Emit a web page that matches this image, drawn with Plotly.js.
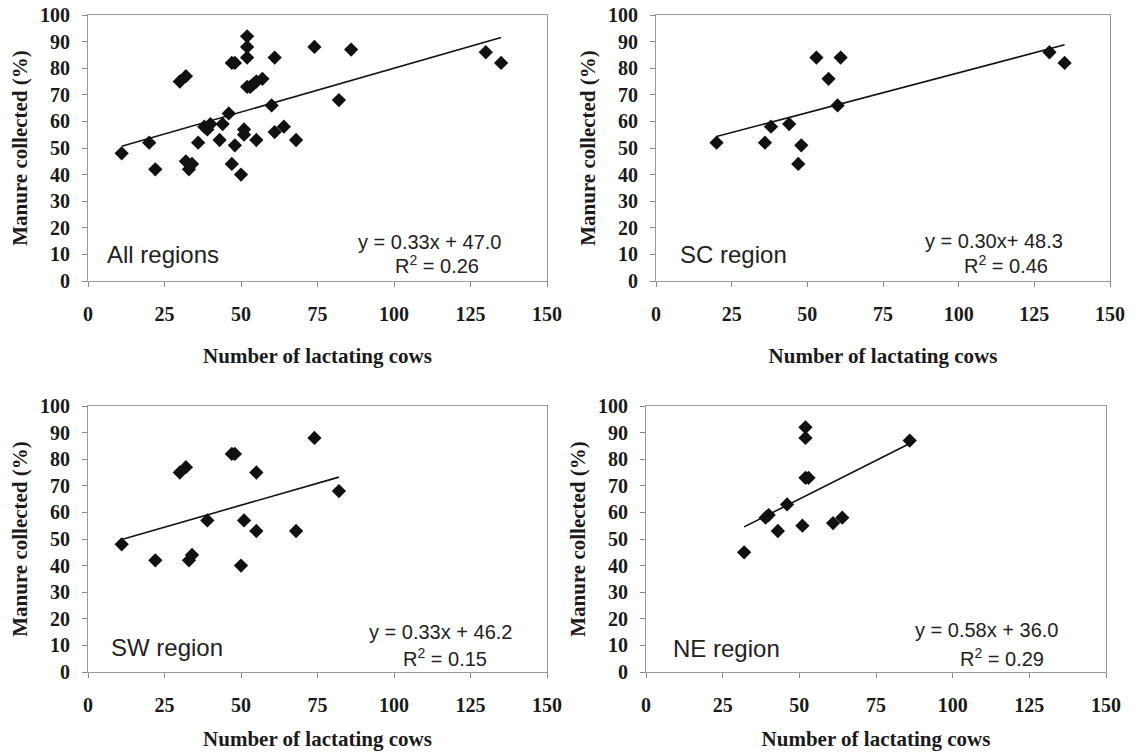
<!DOCTYPE html>
<html>
<head>
<meta charset="utf-8">
<script src="https://cdn.plot.ly/plotly-3.0.1.min.js"></script>
<style>
html,body{margin:0;padding:0;background:#fff;}
#chart{width:1135px;height:753px;}
</style>
</head>
<body>
<div id="chart"></div>
<script>
// ---- data ----
const allX = [11,20,22,30,32,32,33,34,36,38,39,40,43,44,46,47,48,47,48,50,51,51,52,52,52,52,53,54,55,57,55,60,61,61,64,68,74,82,86,130,135];
const allY = [48,52,42,75,77,45,42,44,52,58,57,59,53,59,63,82,82,44,51,40,57,55,92,88,84,73,73,74,75,76,53,66,84,56,58,53,88,68,87,86,82];

const scX = [20,36,38,44,48,47,53,57,61,60,130,135];
const scY = [52,52,58,59,51,44,84,76,84,66,86,82];

const swX = [11,22,30,32,33,34,39,47,48,50,51,55,55,68,74,82];
const swY = [48,42,75,77,42,44,57,82,82,40,57,53,75,53,88,68];

const neX = [32,39,40,43,46,51,52,52,52,53,61,64,86];
const neY = [45,58,59,53,63,55,92,88,73,73,56,58,87];

const regionNames = ['All regions', 'SC region', 'SW region', 'NE region'];
const slopes = [0.33, 0.30, 0.33, 0.58];
const intercepts = [47.0, 48.3, 46.2, 36.0];
const eqLabels = ['y = 0.33x + 47.0', 'y = 0.30x+ 48.3', 'y = 0.33x + 46.2', 'y = 0.58x + 36.0'];
const r2Labels = ['0.26', '0.46', '0.15', '0.29'];

const xTickVals = [0, 25, 50, 75, 100, 125, 150];
const yTickVals = [0, 10, 20, 30, 40, 50, 60, 70, 80, 90, 100];
const xTitle = 'Number of lactating cows';
const yTitle = 'Manure collected (%)';

// ---- layout helpers (pixel -> paper) ----
const W = 1135, H = 753;
const px = v => v / W;
const py = v => 1 - v / H;

const seriesX = [allX, scX, swX, neX];
const seriesY = [allY, scY, swY, neY];

// plot-area boxes in pixels: [left, right, top, bottom]
const boxes = [
  [88, 547, 15, 281],
  [656, 1110, 15, 281],
  [88, 547, 406, 672],
  [646, 1106, 406, 672]
];
const regionPos = [[105, 255], [678, 255], [109, 647], [671, 648]];
const eqPos = [[429, 242], [994, 241], [440, 632], [986, 630]];
const r2Pos = [[437, 264], [1006, 264], [445, 657], [1002, 657]];
const xTitleStandoff = [24, 24, 16, 16];

const serif = 'Liberation Serif, Times New Roman, serif';
const sans = 'Liberation Sans, Arial, sans-serif';

const traces = [];
const layout = {
  width: W, height: H,
  margin: {l: 0, r: 0, t: 0, b: 0},
  paper_bgcolor: '#fff',
  plot_bgcolor: '#fff',
  showlegend: false,
  annotations: []
};

for (let i = 0; i < 4; i++) {
  const sfx = i === 0 ? '' : String(i + 1);
  const xa = 'x' + sfx, ya = 'y' + sfx;
  const xs = seriesX[i], ys = seriesY[i];

  traces.push({
    type: 'scatter', mode: 'markers',
    x: xs, y: ys, xaxis: xa, yaxis: ya,
    marker: {symbol: 'diamond', size: 11, color: '#111'},
    hoverinfo: 'x+y'
  });

  const xmin = Math.min(...xs), xmax = Math.max(...xs);
  traces.push({
    type: 'scatter', mode: 'lines',
    x: [xmin, xmax],
    y: [slopes[i] * xmin + intercepts[i], slopes[i] * xmax + intercepts[i]],
    xaxis: xa, yaxis: ya,
    line: {color: '#111', width: 1.6},
    hoverinfo: 'skip'
  });

  const b = boxes[i];
  layout['xaxis' + sfx] = {
    domain: [px(b[0]), px(b[1])],
    anchor: ya,
    range: [0, 150],
    tickvals: xTickVals,
    ticks: 'outside', ticklen: 5, tickwidth: 1, tickcolor: '#888',
    ticklabelstandoff: 10,
    showgrid: false, zeroline: false,
    showline: true, linecolor: '#999', linewidth: 1, mirror: true,
    tickfont: {family: serif, size: 20, color: '#1a1a1a', weight: 'bold'},
    title: {text: xTitle, standoff: xTitleStandoff[i],
            font: {family: serif, size: 21, color: '#1a1a1a', weight: 'bold'}},
    fixedrange: true
  };
  layout['yaxis' + sfx] = {
    domain: [py(b[3]), py(b[2])],
    anchor: xa,
    range: [0, 100],
    tickvals: yTickVals,
    ticks: 'outside', ticklen: 5, tickwidth: 1, tickcolor: '#888',
    ticklabelstandoff: 8,
    showgrid: false, zeroline: false,
    showline: true, linecolor: '#999', linewidth: 1, mirror: true,
    tickfont: {family: serif, size: 20, color: '#1a1a1a', weight: 'bold'},
    title: {text: yTitle, standoff: 6,
            font: {family: serif, size: 21, color: '#1a1a1a', weight: 'bold'}},
    fixedrange: true
  };

  layout.annotations.push({
    xref: 'paper', yref: 'paper',
    x: px(regionPos[i][0]), y: py(regionPos[i][1]),
    xanchor: 'left', yanchor: 'middle',
    text: regionNames[i], showarrow: false,
    font: {family: sans, size: 24, color: '#222'}
  });
  layout.annotations.push({
    xref: 'paper', yref: 'paper',
    x: px(eqPos[i][0]), y: py(eqPos[i][1]),
    xanchor: 'center', yanchor: 'middle',
    text: eqLabels[i], showarrow: false,
    font: {family: sans, size: 20, color: '#222'}
  });
  layout.annotations.push({
    xref: 'paper', yref: 'paper',
    x: px(r2Pos[i][0]), y: py(r2Pos[i][1]),
    xanchor: 'center', yanchor: 'middle',
    text: 'R<sup>2</sup> = ' + r2Labels[i], showarrow: false,
    font: {family: sans, size: 20, color: '#222'}
  });
}

Plotly.newPlot('chart', traces, layout, {displayModeBar: false, staticPlot: true});
</script>
</body>
</html>
